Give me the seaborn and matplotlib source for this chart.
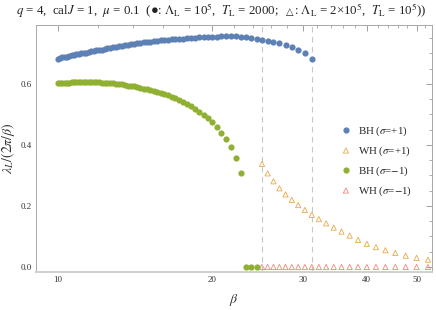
import matplotlib
matplotlib.use("Agg")
import matplotlib.pyplot as plt
import matplotlib.ticker as mticker
from matplotlib.offsetbox import AnchoredOffsetbox, HPacker, TextArea
import seaborn as sns

# inverse temperatures (shared grid) and Lyapunov exponents
beta_bh = [10.00, 10.10, 10.20, 10.31, 10.42, 10.53, 10.64, 10.75, 10.87, 10.99,
           11.11, 11.24, 11.36, 11.49, 11.63, 11.76, 11.90, 12.05, 12.20, 12.35,
           12.50, 12.66, 12.82, 12.99, 13.16, 13.33, 13.51, 13.70, 13.89, 14.08,
           14.29, 14.49, 14.71, 14.93, 15.15, 15.38, 15.63, 15.87, 16.13, 16.39,
           16.67, 16.95, 17.24, 17.54, 17.86, 18.18, 18.52, 18.87, 19.23, 19.61,
           20.00, 20.41, 20.83, 21.28, 21.74, 22.22, 22.73, 23.26, 23.81, 24.39,
           25.00, 25.64, 26.32, 27.03, 27.78, 28.57, 29.41, 30.30, 31.25]
bh_plus = [0.683, 0.685, 0.687, 0.689, 0.690, 0.692, 0.694, 0.695, 0.697, 0.699,
           0.700, 0.702, 0.703, 0.705, 0.707, 0.708, 0.710, 0.712, 0.713, 0.715,
           0.717, 0.718, 0.720, 0.722, 0.724, 0.725, 0.727, 0.729, 0.730, 0.732,
           0.733, 0.735, 0.736, 0.738, 0.739, 0.740, 0.742, 0.743, 0.744, 0.745,
           0.746, 0.747, 0.748, 0.749, 0.750, 0.751, 0.752, 0.753, 0.754, 0.754,
           0.755, 0.755, 0.756, 0.756, 0.756, 0.756, 0.755, 0.754, 0.752, 0.749,
           0.745, 0.742, 0.739, 0.734, 0.729, 0.721, 0.712, 0.701, 0.683]
bh_minus = [0.603, 0.603, 0.604, 0.604, 0.604, 0.604, 0.605, 0.605, 0.605, 0.605,
            0.605, 0.605, 0.605, 0.605, 0.605, 0.605, 0.605, 0.605, 0.604, 0.604,
            0.604, 0.603, 0.602, 0.601, 0.600, 0.599, 0.597, 0.595, 0.594, 0.592,
            0.590, 0.588, 0.585, 0.583, 0.580, 0.577, 0.574, 0.570, 0.567, 0.563,
            0.558, 0.553, 0.548, 0.541, 0.534, 0.527, 0.519, 0.509, 0.499, 0.487,
            0.474, 0.459, 0.440, 0.419, 0.392, 0.358, 0.309, 0.0, 0.0, 0.0]

beta_wh = [25.00, 25.64, 26.32, 27.03, 27.78, 28.57, 29.41, 30.30, 31.25, 32.26,
           33.33, 34.48, 35.71, 37.04, 38.46, 40.00, 41.67, 43.48, 45.45, 47.62,
           50.00, 52.63]
wh_plus = [0.338, 0.307, 0.281, 0.258, 0.238, 0.220, 0.203, 0.187, 0.171, 0.157,
           0.143, 0.129, 0.116, 0.103, 0.089, 0.076, 0.065, 0.055, 0.046, 0.037,
           0.030, 0.024]
wh_minus = [0.0] * len(beta_wh)

transitions = [25.0, 31.25]

sns.set_theme(style="white")
plt.rcParams["font.family"] = ["Liberation Serif", "DejaVu Sans"]
plt.rcParams["mathtext.fontset"] = "stix"

fig = plt.figure(figsize=(4.36, 3.10), dpi=100)
ax = fig.add_axes([0.083, 0.123, 0.908, 0.796])

blue, green, orange, red = "#5E81B5", "#8FB032", "#E8A94A", "#EE8A7A"

for b in transitions:
    ax.axvline(b, color="#c8c8c8", lw=0.8, ls=(0, (5, 4)), zorder=0)

sns.scatterplot(x=beta_bh, y=bh_plus, ax=ax, color=blue, s=20, linewidth=0,
                label=r"BH ($\sigma$=+1)")
sns.scatterplot(x=beta_wh, y=wh_plus, ax=ax, marker="^", s=14,
                facecolor="none", edgecolor=orange, linewidth=0.6,
                label=r"WH ($\sigma$=+1)")
sns.scatterplot(x=beta_bh[:len(bh_minus)], y=bh_minus, ax=ax, color=green, s=20,
                linewidth=0, label=r"BH ($\sigma$=$-$1)")
sns.scatterplot(x=beta_wh, y=wh_minus, ax=ax, marker="^", s=14,
                facecolor="none", edgecolor=red, linewidth=0.6,
                label=r"WH ($\sigma$=$-$1)")

ax.set_xscale("log")
ax.set_xlim(9.08, 53.6)
ax.set_ylim(-0.016, 0.793)

ax.xaxis.set_major_locator(mticker.FixedLocator([10, 20, 30, 40, 50]))
ax.xaxis.set_major_formatter(mticker.FixedFormatter(["10", "20", "30", "40", "50"]))
ax.xaxis.set_minor_locator(mticker.FixedLocator(
    [v for v in range(10, 54, 2) if v % 10 != 0]))
ax.xaxis.set_minor_formatter(mticker.NullFormatter())
ax.yaxis.set_major_locator(mticker.MultipleLocator(0.2))
ax.yaxis.set_minor_locator(mticker.MultipleLocator(0.05))
ax.yaxis.set_major_formatter(mticker.FormatStrFormatter("%.1f"))

ax.tick_params(which="both", direction="in", top=True, right=True,
               color="#909090", labelsize=6.5, labelcolor="#333333", pad=3)
ax.tick_params(which="major", length=4, width=0.6)
ax.tick_params(which="minor", length=2.2, width=0.5)
for side, spine in ax.spines.items():
    spine.set_color("#a8a8a8")
    spine.set_linewidth(0.7)
ax.spines["bottom"].set_linewidth(1.4)
ax.spines["bottom"].set_color("#d0d0d0")

ax.set_xlabel(r"$\beta$", fontsize=10, labelpad=6, color="#333333")
ax.set_ylabel(r"$\lambda_L/(2\pi/\beta)$", fontsize=10, labelpad=3, color="#333333")

ax.legend(loc="center left", bbox_to_anchor=(0.755, 0.45), frameon=False,
          fontsize=7.8, handletextpad=0.5, handlelength=1.2, labelspacing=0.6,
          borderaxespad=0)

# title assembled from pieces so the open triangle can use a font that has it
tprops = dict(fontsize=9.3, color="#222222")
head = TextArea(r"$q$ = 4,  cal$J$ = 1,  $\mu$ = 0.1  (●: $\Lambda_{\rm L}$ = 10$^5$,  "
                r"$T_{\rm L}$ = 2000;", textprops=tprops)
tri = TextArea("△", textprops=dict(fontsize=7, color="#222222", family="DejaVu Sans"))
tail = TextArea(r": $\Lambda_{\rm L}$ = 2×10$^5$,  $T_{\rm L}$ = 10$^5$))", textprops=tprops)
title_box = HPacker(children=[head, HPacker(children=[tri, tail], align="baseline",
                                            pad=0, sep=0.5)],
                    align="baseline", pad=0, sep=5)
anchored = AnchoredOffsetbox(loc="upper center", child=title_box, pad=0, borderpad=0,
                             frameon=False, bbox_to_anchor=(0.508, 0.995),
                             bbox_transform=fig.transFigure)
fig.add_artist(anchored)

fig.savefig("out.png", dpi=100)
